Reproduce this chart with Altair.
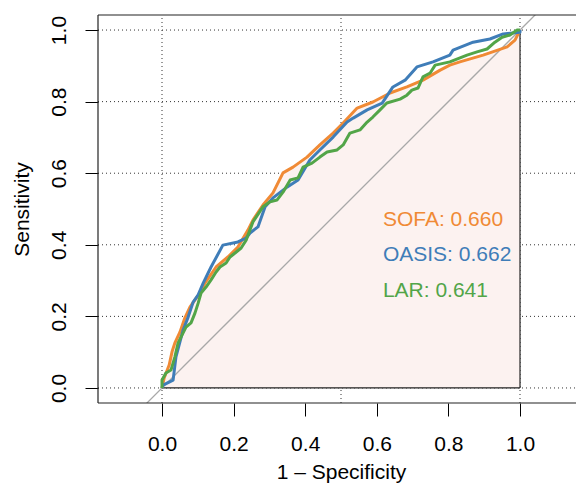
import altair as alt
import pandas as pd

# ---- data ----
sofa_fpr = [0, 0.006, 0.020, 0.028, 0.036, 0.050, 0.064, 0.078, 0.092, 0.106, 0.120, 0.151,
            0.184, 0.212, 0.240, 0.254, 0.282, 0.310, 0.338, 0.366, 0.405, 0.441, 0.478, 0.506,
            0.545, 0.589, 0.637, 0.684, 0.729, 0.777, 0.804, 0.832, 0.897, 0.964, 0.986, 1.0]
sofa_tpr = [0, 0.028, 0.064, 0.101, 0.126, 0.156, 0.196, 0.226, 0.246, 0.265, 0.293, 0.338,
            0.366, 0.394, 0.441, 0.469, 0.511, 0.545, 0.601, 0.617, 0.645, 0.679, 0.712, 0.740,
            0.782, 0.799, 0.824, 0.841, 0.860, 0.888, 0.902, 0.911, 0.930, 0.953, 0.972, 1.0]

oasis_fpr = [0, 0.003, 0.031, 0.039, 0.059, 0.073, 0.087, 0.101, 0.115, 0.137, 0.170, 0.212,
             0.235, 0.246, 0.268, 0.288, 0.310, 0.349, 0.380, 0.413, 0.441, 0.478, 0.517, 0.534,
             0.573, 0.615, 0.645, 0.679, 0.712, 0.757, 0.804, 0.813, 0.869, 0.916, 0.953, 1.0, 1.0]
oasis_tpr = [0, 0.008, 0.022, 0.087, 0.162, 0.198, 0.240, 0.260, 0.293, 0.338, 0.399, 0.408,
             0.419, 0.433, 0.450, 0.506, 0.531, 0.561, 0.581, 0.637, 0.665, 0.701, 0.743, 0.754,
             0.777, 0.796, 0.841, 0.860, 0.897, 0.911, 0.930, 0.944, 0.966, 0.975, 0.989, 0.994, 1.0]

lar_fpr = [0, 0, 0.011, 0.025, 0.036, 0.045, 0.053, 0.067, 0.081, 0.092, 0.101, 0.109, 0.123,
           0.137, 0.151, 0.162, 0.179, 0.190, 0.204, 0.221, 0.235, 0.254, 0.282, 0.302, 0.321,
           0.338, 0.358, 0.380, 0.394, 0.419, 0.441, 0.461, 0.489, 0.506, 0.525, 0.553, 0.573,
           0.589, 0.609, 0.628, 0.665, 0.684, 0.698, 0.715, 0.729, 0.749, 0.763, 0.804, 0.852,
           0.880, 0.908, 0.930, 0.950, 0.972, 0.992, 1.0]
lar_tpr = [0, 0.022, 0.042, 0.050, 0.087, 0.126, 0.142, 0.170, 0.182, 0.209, 0.237, 0.265, 0.282,
           0.302, 0.324, 0.338, 0.349, 0.366, 0.377, 0.391, 0.413, 0.464, 0.506, 0.520, 0.525,
           0.547, 0.581, 0.587, 0.617, 0.628, 0.645, 0.659, 0.665, 0.679, 0.712, 0.721, 0.743,
           0.757, 0.777, 0.796, 0.807, 0.818, 0.832, 0.838, 0.869, 0.880, 0.902, 0.911, 0.930,
           0.939, 0.947, 0.966, 0.980, 0.986, 1.0, 1.0]

models = ["SOFA", "OASIS", "LAR"]
colors = ["#F08A35", "#3F7DB8", "#52A548"]
labels = ["SOFA: 0.660", "OASIS: 0.662", "LAR: 0.641"]
label_x = [0.617, 0.617, 0.617]
label_y = [0.452, 0.354, 0.254]

tick_vals = [0, 0.2, 0.4, 0.6, 0.8, 1.0]
grid_x = [0, 0.5, 1.0]
grid_y = [0, 0.2, 0.4, 0.6, 0.8, 1.0]

W = 478
XMIN = -0.1788
XMAX = XMIN + W / 358.0
YMIN, YMAX = -0.042, 1.042

FONT = "Liberation Sans"

# ---- build tables ----
rows = []
for m, fx, ty in zip(models, [sofa_fpr, oasis_fpr, lar_fpr], [sofa_tpr, oasis_tpr, lar_tpr]):
    for i, (a, b) in enumerate(zip(fx, ty)):
        rows.append({"model": m, "x": a, "y": b, "order": i})
curves = pd.DataFrame(rows)
poly = pd.DataFrame({"x": sofa_fpr, "y": sofa_tpr})
texts = pd.DataFrame({"model": models, "label": labels, "x": label_x, "y": label_y})
hgrid = pd.DataFrame({"y": grid_y, "x": [XMIN] * len(grid_y), "x2": [XMAX] * len(grid_y)})
vgrid = pd.DataFrame({"x": grid_x, "y": [YMIN] * len(grid_x), "y2": [YMAX] * len(grid_x)})
diag = pd.DataFrame({"x": [-0.3, 1.3], "y": [-0.3, 1.3]})
box_h = pd.DataFrame({"y": [YMIN, YMAX], "x": [XMIN, XMIN], "x2": [XMAX, XMAX]})
box_v = pd.DataFrame({"x": [XMIN], "y": [YMIN], "y2": [YMAX]})
poly_edges_h = pd.DataFrame({"y": [0], "x": [0], "x2": [1]})
poly_edges_v = pd.DataFrame({"x": [1], "y": [0], "y2": [1]})

xscale = alt.Scale(domain=[XMIN, XMAX], nice=False, zero=False)
yscale = alt.Scale(domain=[YMIN, YMAX], nice=False, zero=False)

xaxis = alt.Axis(values=tick_vals, format=".1f", title="1 \u2013 Specificity",
                 domain=False, grid=False, tickSize=13, tickColor="black", tickWidth=1,
                 labelFont=FONT, labelFontSize=21, labelColor="black",
                 labelBaseline="alphabetic", labelPadding=34, labelFlush=False,
                 labelOverlap=False,
                 titleFont=FONT, titleFontSize=21, titleFontWeight="normal",
                 titleColor="black", titleX=243, titleY=75, titleAlign="center",
                 titleBaseline="alphabetic")
yaxis = alt.Axis(values=tick_vals, format=".1f", title="Sensitivity",
                 domain=False, grid=False, tickSize=13, tickColor="black", tickWidth=1,
                 labelFont=FONT, labelFontSize=21, labelColor="black",
                 labelAngle=270, labelAlign="center", labelBaseline="alphabetic",
                 labelPadding=20, labelFlush=False, labelOverlap=False,
                 titleFont=FONT, titleFontSize=21, titleFontWeight="normal",
                 titleColor="black", titleAngle=270, titleX=-70, titleY=194,
                 titleAlign="center", titleBaseline="alphabetic")


def X(f="x"):
    return alt.X(f"{f}:Q", scale=xscale, axis=xaxis)


def Y(f="y"):
    return alt.Y(f"{f}:Q", scale=yscale, axis=yaxis)


color_scale = alt.Scale(domain=models, range=colors)

hg = alt.Chart(hgrid).mark_rule(strokeDash=[1, 3], color="#333", strokeWidth=1).encode(
    x=X(), x2="x2:Q", y=Y())
vg = alt.Chart(vgrid).mark_rule(strokeDash=[1, 3], color="#333", strokeWidth=1).encode(
    x=X(), y=Y(), y2="y2:Q")
area = alt.Chart(poly).mark_area(color="#FCF2F0", opacity=1).encode(
    x=X(), y=Y(), y2=alt.datum(0))
pe_h = alt.Chart(poly_edges_h).mark_rule(color="#222", strokeWidth=1.2).encode(
    x=X(), x2="x2:Q", y=Y())
pe_v = alt.Chart(poly_edges_v).mark_rule(color="#222", strokeWidth=1.2).encode(
    x=X(), y=Y(), y2="y2:Q")
dg = alt.Chart(diag).mark_line(color="#A8A8A8", strokeWidth=1.3, clip=True).encode(
    x=X(), y=Y())
lines = alt.Chart(curves).mark_line(strokeWidth=3, strokeJoin="round").encode(
    x=X(), y=Y(), order="order:Q",
    color=alt.Color("model:N", scale=color_scale, legend=None))
txt = alt.Chart(texts).mark_text(align="left", baseline="alphabetic", font=FONT,
                                 fontSize=21).encode(
    x=X(), y=Y(), text="label:N",
    color=alt.Color("model:N", scale=color_scale, legend=None))
bh = alt.Chart(box_h).mark_rule(color="#222", strokeWidth=1.2).encode(
    x=X(), x2="x2:Q", y=Y())
bv = alt.Chart(box_v).mark_rule(color="#222", strokeWidth=1.2).encode(
    x=X(), y=Y(), y2="y2:Q")

chart = alt.layer(hg, vg, area, pe_h, pe_v, dg, lines, txt, bh, bv).properties(
    width=W, height=388,
    autosize=alt.AutoSizeParams(type="none"),
    padding={"left": 90, "top": 7, "right": 0, "bottom": 80},
    background="white",
).configure_view(strokeWidth=0)

chart.save("out.html", embed_options={"renderer": "svg", "actions": False})
